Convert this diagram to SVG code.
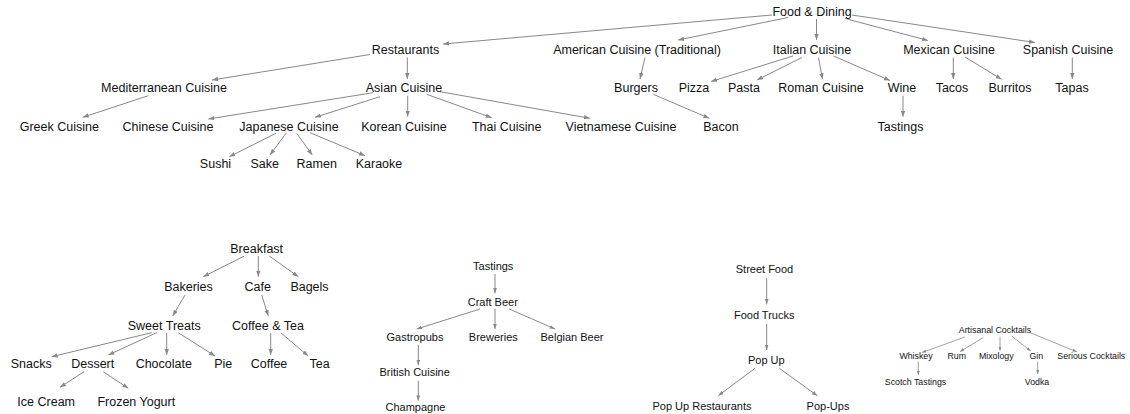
<svg xmlns="http://www.w3.org/2000/svg" width="1130" height="414" viewBox="0 0 1130 414">
<style>
text{font-family:"Liberation Sans",Arial,sans-serif;fill:#111;text-anchor:middle}
.l text{font-size:12.5px}
.m text{font-size:11px}
.s text{font-size:8.8px}
.e path{fill:none;stroke:#888;stroke-width:1}
.e path.sm{stroke-width:0.8}
</style>
<defs>
<marker id="a" markerUnits="userSpaceOnUse" markerWidth="8" markerHeight="6" refX="6" refY="2.2" orient="auto"><path d="M0,0 L6,2.2 L0,4.4 Z" fill="#888"/></marker>
<marker id="b" markerUnits="userSpaceOnUse" markerWidth="7" markerHeight="5" refX="5.3" refY="1.9" orient="auto"><path d="M0,0 L5.3,1.9 L0,3.8 Z" fill="#888"/></marker>
<marker id="c" markerUnits="userSpaceOnUse" markerWidth="6" markerHeight="4" refX="4.2" refY="1.5" orient="auto"><path d="M0,0 L4.2,1.5 L0,3 Z" fill="#888"/></marker>
</defs>
<g id="connectors" class="e">
<!-- top graph -->
<g marker-end="url(#a)">
<path d="M772,15 L443,44"/>
<path d="M788,17.5 L678,40"/>
<path d="M816.5,19 L816.5,40"/>
<path d="M845,18.5 L928,40.5"/>
<path d="M852,15 L1035,42.5"/>
<path d="M370,54.5 L212,80"/>
<path d="M407.3,57.5 L407.3,79"/>
<path d="M645,57.5 L640,79"/>
<path d="M793,56 L711,81.5"/>
<path d="M802,57.5 L757,80"/>
<path d="M818.5,57.5 L822.5,79.3"/>
<path d="M833.5,56 L890,80.5"/>
<path d="M953.3,57.5 L953.3,79"/>
<path d="M965,57 L1001.5,79.3"/>
<path d="M1072.3,57.5 L1072.3,79"/>
<path d="M148.3,95.7 L82.7,117.3"/>
<path d="M373.3,92.7 L208.3,119"/>
<path d="M380,96.7 L315,117.3"/>
<path d="M407.7,95.7 L407.7,116.7"/>
<path d="M426.7,94.3 L491.7,117.7"/>
<path d="M440,91.7 L590,118.3"/>
<path d="M653.3,94.3 L709.3,118.3"/>
<path d="M903,95.7 L903,116.7"/>
<path d="M276,133.3 L229.3,156.7"/>
<path d="M286,133.3 L270,155"/>
<path d="M296.7,133.3 L312.3,155"/>
<path d="M310,132.7 L365,155.7"/>
</g>
<!-- breakfast graph -->
<g marker-end="url(#a)">
<path d="M244.3,256 L203.3,276.7"/>
<path d="M258.3,256 L258.3,276.7"/>
<path d="M269.3,256 L298.3,276.7"/>
<path d="M185,295 L172.7,316"/>
<path d="M261.7,295 L268.3,316"/>
<path d="M151.7,332.7 L51.7,356.7"/>
<path d="M156.7,332.7 L108.3,355"/>
<path d="M166.7,333 L166.7,355"/>
<path d="M178.3,332.7 L215,356"/>
<path d="M270.7,333 L270.7,355"/>
<path d="M281,333 L308.3,356"/>
<path d="M84,371.7 L60,387.3"/>
<path d="M103.3,371.7 L128.3,388.3"/>
</g>
<!-- craft beer graph -->
<g marker-end="url(#b)">
<path d="M495,274 L495,293.3"/>
<path d="M480,309 L416.7,329"/>
<path d="M495,309 L495,329"/>
<path d="M509.3,309 L555,329"/>
<path d="M418.3,345 L418.3,365"/>
<path d="M418.3,380.7 L418.3,400.7"/>
</g>
<!-- street food graph -->
<g marker-end="url(#b)">
<path d="M766.7,278.3 L766.7,304.3"/>
<path d="M766.7,324 L766.7,350"/>
<path d="M755,368.3 L718.3,395.7"/>
<path d="M779.3,368.3 L817.3,395.7"/>
</g>
<!-- cocktails graph -->
<g marker-end="url(#c)">
<path class="sm" d="M965,337 L922,352.5"/>
<path class="sm" d="M983.3,337.5 L960,351.7"/>
<path class="sm" d="M1000,336.7 L1000,350.7"/>
<path class="sm" d="M1011.7,336 L1030.7,351"/>
<path class="sm" d="M1030,332.7 L1076.7,351.7"/>
<path class="sm" d="M918.3,361.7 L918.3,375"/>
<path class="sm" d="M1037.7,361.7 L1037.7,374"/>
</g>
</g>
<g id="nodes">
<g class="l">
<g id="n-food-dining"><text x="812" y="15.6">Food &amp; Dining</text></g>
<g id="n-restaurants"><text x="405.5" y="54">Restaurants</text></g>
<g id="n-american"><text x="637" y="54">American Cuisine (Traditional)</text></g>
<g id="n-italian"><text x="812" y="54">Italian Cuisine</text></g>
<g id="n-mexican"><text x="949" y="54">Mexican Cuisine</text></g>
<g id="n-spanish"><text x="1068" y="54">Spanish Cuisine</text></g>
<g id="n-mediterranean"><text x="164" y="92.3">Mediterranean Cuisine</text></g>
<g id="n-asian"><text x="404" y="92.3">Asian Cuisine</text></g>
<g id="n-burgers"><text x="636" y="92.3">Burgers</text></g>
<g id="n-pizza"><text x="694" y="92.3">Pizza</text></g>
<g id="n-pasta"><text x="744" y="92.3">Pasta</text></g>
<g id="n-roman"><text x="821" y="92.3">Roman Cuisine</text></g>
<g id="n-wine"><text x="902" y="92.3">Wine</text></g>
<g id="n-tacos"><text x="952" y="92.3">Tacos</text></g>
<g id="n-burritos"><text x="1010" y="92.3">Burritos</text></g>
<g id="n-tapas"><text x="1072" y="92.3">Tapas</text></g>
<g id="n-greek"><text x="59.3" y="130.6">Greek Cuisine</text></g>
<g id="n-chinese"><text x="168" y="130.6">Chinese Cuisine</text></g>
<g id="n-japanese"><text x="289" y="130.6">Japanese Cuisine</text></g>
<g id="n-korean"><text x="404" y="130.6">Korean Cuisine</text></g>
<g id="n-thai"><text x="506.7" y="130.6">Thai Cuisine</text></g>
<g id="n-vietnamese"><text x="621" y="130.6">Vietnamese Cuisine</text></g>
<g id="n-bacon"><text x="721" y="130.6">Bacon</text></g>
<g id="n-wine-tastings"><text x="900.5" y="130.6">Tastings</text></g>
<g id="n-sushi"><text x="215.5" y="168.3">Sushi</text></g>
<g id="n-sake"><text x="264.7" y="168.3">Sake</text></g>
<g id="n-ramen"><text x="316.7" y="168.3">Ramen</text></g>
<g id="n-karaoke"><text x="379" y="168.3">Karaoke</text></g>
<g id="n-breakfast"><text x="256.7" y="253">Breakfast</text></g>
<g id="n-bakeries"><text x="188.5" y="291.3">Bakeries</text></g>
<g id="n-cafe"><text x="257.8" y="291.3">Cafe</text></g>
<g id="n-bagels"><text x="309.5" y="291.3">Bagels</text></g>
<g id="n-sweet-treats"><text x="164.2" y="329.6">Sweet Treats</text></g>
<g id="n-coffee-tea"><text x="268" y="329.6">Coffee &amp; Tea</text></g>
<g id="n-snacks"><text x="31.2" y="368">Snacks</text></g>
<g id="n-dessert"><text x="92.7" y="368">Dessert</text></g>
<g id="n-chocolate"><text x="163.8" y="368">Chocolate</text></g>
<g id="n-pie"><text x="223.3" y="368">Pie</text></g>
<g id="n-coffee"><text x="269" y="368">Coffee</text></g>
<g id="n-tea"><text x="319.7" y="368">Tea</text></g>
<g id="n-ice-cream"><text x="46.2" y="406.3">Ice Cream</text></g>
<g id="n-frozen-yogurt"><text x="136.3" y="406.3">Frozen Yogurt</text></g>
</g>
<g class="m">
<g id="n-tastings"><text x="493.2" y="269.6">Tastings</text></g>
<g id="n-craft-beer"><text x="492.8" y="306.2">Craft Beer</text></g>
<g id="n-gastropubs"><text x="415" y="341.2">Gastropubs</text></g>
<g id="n-breweries"><text x="493.3" y="341.2">Breweries</text></g>
<g id="n-belgian-beer"><text x="572" y="341.2">Belgian Beer</text></g>
<g id="n-british"><text x="414.7" y="376.2">British Cuisine</text></g>
<g id="n-champagne"><text x="415.5" y="411.2">Champagne</text></g>
<g id="n-street-food"><text x="764.5" y="272.9">Street Food</text></g>
<g id="n-food-trucks"><text x="764.2" y="319">Food Trucks</text></g>
<g id="n-pop-up"><text x="766.3" y="364">Pop Up</text></g>
<g id="n-pop-up-restaurants"><text x="702" y="409.7">Pop Up Restaurants</text></g>
<g id="n-pop-ups"><text x="828" y="409.7">Pop-Ups</text></g>
</g>
<g class="s">
<g id="n-artisanal"><text x="995" y="333">Artisanal Cocktails</text></g>
<g id="n-whiskey"><text x="916" y="359">Whiskey</text></g>
<g id="n-rum"><text x="956.8" y="359">Rum</text></g>
<g id="n-mixology"><text x="996.3" y="359">Mixology</text></g>
<g id="n-gin"><text x="1036.3" y="359">Gin</text></g>
<g id="n-serious"><text x="1091.3" y="359">Serious Cocktails</text></g>
<g id="n-scotch"><text x="915.5" y="384.7">Scotch Tastings</text></g>
<g id="n-vodka"><text x="1037" y="384.7">Vodka</text></g>
</g>
</g>
</svg>
